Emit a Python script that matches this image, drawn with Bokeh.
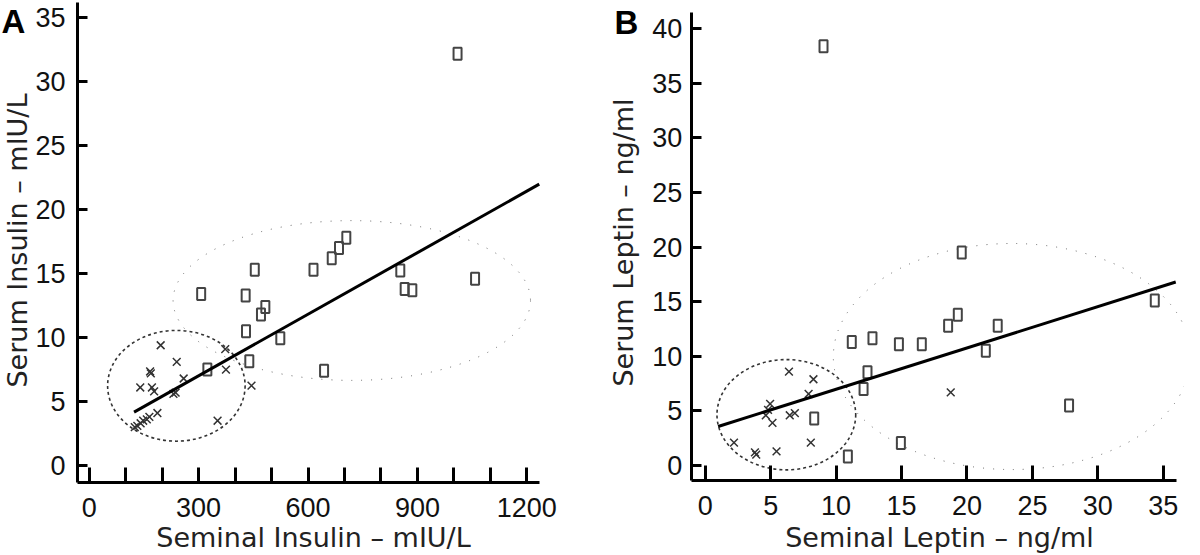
import math
from bokeh.plotting import figure
from bokeh.models import FixedTicker, Range1d, Label
from bokeh.layouts import row
from bokeh.embed import file_html
from bokeh.resources import INLINE

# ---------------- Panel A data (Seminal vs Serum Insulin) ----------------
a_sq_x = [1010, 705, 685, 665, 454, 615, 853, 1058, 865, 886, 307, 429, 483, 471, 430, 524, 439, 324, 644]
a_sq_y = [32.2, 17.8, 17.0, 16.2, 15.3, 15.3, 15.25, 14.6, 13.8, 13.7, 13.4, 13.3, 12.4, 11.8, 10.5, 9.95, 8.15, 7.5, 7.4]
a_x_x = [196, 240, 167, 169, 373, 375, 259, 140, 172, 178, 231, 237, 445, 187, 165, 148, 132, 141, 352, 158, 125]
a_x_y = [9.4, 8.1, 7.35, 7.2, 9.1, 7.5, 6.8, 6.1, 6.1, 5.8, 5.6, 5.7, 6.25, 4.1, 3.8, 3.5, 3.1, 3.3, 3.5, 3.6, 3.0]
a_fit_x = [123, 1234]
a_fit_y = [4.17, 22.0]
a_small_ell = [239, 6.23, 377, 8.66]     # cx, cy, width, height
a_big_ell = [720, 12.9, 980, 12.5]
a_xticks = list(range(0, 1201, 100))
a_xtick_labels = ["0", "", "", "300", "", "", "600", "", "", "900", "", "", "1200"]
a_yticks = [0, 5, 10, 15, 20, 25, 30, 35]

# ---------------- Panel B data (Seminal vs Serum Leptin) ----------------
b_sq_x = [9.04, 19.6, 34.35, 19.3, 18.56, 22.35, 11.2, 12.78, 14.8, 16.55, 21.44, 12.4, 12.1, 8.33, 27.8, 14.95, 10.9]
b_sq_y = [38.4, 19.5, 15.1, 13.8, 12.8, 12.8, 11.3, 11.66, 11.1, 11.1, 10.5, 8.55, 7.0, 4.3, 5.5, 2.05, 0.82]
b_x_x = [6.4, 8.27, 7.9, 18.76, 4.96, 4.63, 5.14, 6.46, 6.85, 4.8, 2.2, 3.8, 3.9, 5.45, 8.07]
b_x_y = [8.6, 7.9, 6.55, 6.7, 5.65, 4.6, 3.9, 4.6, 4.8, 5.1, 2.1, 1.2, 1.0, 1.3, 2.1]
b_fit_x = [0.99, 35.95]
b_fit_y = [3.57, 16.8]
b_small_ell = [6.2, 4.65, 10.6, 10.1]
b_big_ell = [23.44, 9.98, 27.3, 20.7]
b_xticks = [0, 5, 10, 15, 20, 25, 30, 35]
b_yticks = [0, 5, 10, 15, 20, 25, 30, 35, 40]

TICK_FONT = "Liberation Sans"
TITLE_FONT = "DejaVu Sans"
TICK_FS = "27px"
TITLE_FS = "27px"


def make_panel(cfg):
    p = figure(width=592, height=555, output_backend="svg", toolbar_location=None,
               x_range=Range1d(*cfg["xr"]), y_range=Range1d(*cfg["yr"]),
               min_border=0, min_border_left=0, min_border_right=0,
               min_border_top=0, min_border_bottom=0)
    p.outline_line_color = None
    p.grid.visible = False
    p.background_fill_color = "white"
    p.border_fill_color = "white"

    be, se = cfg["big_ell"], cfg["small_ell"]
    p.ellipse(x=[be[0]], y=[be[1]], width=[be[2]], height=[be[3]],
              fill_color=None, line_color="#666666", line_width=1, line_dash="1 9")
    p.ellipse(x=[se[0]], y=[se[1]], width=[se[2]], height=[se[3]],
              fill_color=None, line_color="#333333", line_width=1.6, line_dash="3 3")
    p.scatter(cfg["xx"], cfg["xy"], marker="x", size=11, line_color="#333333", line_width=1.5)
    p.rect(x=cfg["sq_x"], y=cfg["sq_y"], width=8, height=12, width_units="screen",
           height_units="screen", fill_color=None, line_color="#444444", line_width=2)
    p.line(cfg["fit_x"], cfg["fit_y"], line_color="black", line_width=3)

    for ax in (p.xaxis[0], p.yaxis[0]):
        ax.axis_line_width = 3
        ax.axis_line_color = "black"
        ax.major_tick_line_width = 3
        ax.major_tick_line_color = "black"
        ax.major_tick_out = 0
        ax.minor_tick_line_color = None
        ax.major_label_text_font = TICK_FONT
        ax.major_label_text_font_size = TICK_FS
        ax.major_label_text_color = "#111111"

    xa = p.xaxis[0]
    xa.fixed_location = cfg["x_axis_at"]
    xa.bounds = cfg["x_bounds"]
    xa.ticker = FixedTicker(ticks=cfg["xticks"])
    xa.major_label_overrides = {t: l for t, l in zip(cfg["xticks"], cfg["xlabels"])}
    xa.major_tick_in = 15
    xa.major_label_standoff = 16

    ya = p.yaxis[0]
    ya.fixed_location = cfg["y_axis_at"]
    ya.bounds = cfg["y_bounds"]
    ya.ticker = FixedTicker(ticks=cfg["yticks"])
    ya.major_tick_in = 10
    ya.major_label_standoff = cfg["ytick_standoff"]

    # axis titles and panel letter
    tx, ty = cfg["xtitle_at"]
    p.add_layout(Label(x=tx, y=ty, text=cfg["xtitle"], text_font=TITLE_FONT,
                       text_font_size=TITLE_FS, text_color="#222222",
                       text_align="center", text_baseline="middle"))
    tx, ty = cfg["ytitle_at"]
    p.add_layout(Label(x=tx, y=ty, text=cfg["ytitle"], text_font=TITLE_FONT,
                       text_font_size=TITLE_FS, text_color="#222222", angle=math.pi / 2,
                       text_align="center", text_baseline="middle"))
    lx, ly = cfg["letter_at"]
    p.add_layout(Label(x=lx, y=ly, text=cfg["letter"], text_font=TICK_FONT,
                       text_font_size="33px", text_font_style="bold", text_color="black",
                       text_align="left", text_baseline="middle"))
    return p


pa = make_panel(dict(
    xr=(-243.2, 1380.0), yr=(-7.04, 36.36),
    x_axis_at=-1.3, x_bounds=(-32, 1235), y_axis_at=-32, y_bounds=(-1.3, 36.2),
    xticks=a_xticks, xlabels=a_xtick_labels, yticks=a_yticks, ytick_standoff=12,
    sq_x=a_sq_x, sq_y=a_sq_y, xx=a_x_x, xy=a_x_y, fit_x=a_fit_x, fit_y=a_fit_y,
    small_ell=a_small_ell, big_ell=a_big_ell,
    xtitle="Seminal Insulin \u2013 mIU/L", xtitle_at=(615, -5.63),
    ytitle="Serum Insulin \u2013 mIU/L", ytitle_at=(-196.7, 17.59),
    letter="A", letter_at=(-240.5, 34.68)))

pb = make_panel(dict(
    xr=(-8.61, 36.62), yr=(-8.24, 42.58),
    x_axis_at=-1.37, x_bounds=(-1.07, 36.0), y_axis_at=-1.07, y_bounds=(-1.37, 41.46),
    xticks=b_xticks, xlabels=[str(t) for t in b_xticks], yticks=b_yticks, ytick_standoff=9,
    sq_x=b_sq_x, sq_y=b_sq_y, xx=b_x_x, xy=b_x_y, fit_x=b_fit_x, fit_y=b_fit_y,
    small_ell=b_small_ell, big_ell=b_big_ell,
    xtitle="Seminal Leptin \u2013 ng/ml", xtitle_at=(17.9, -6.59),
    ytitle="Serum Leptin \u2013 ng/ml", ytitle_at=(-6.24, 20.42),
    letter="B", letter_at=(-6.93, 40.61)))

layout = row(pa, pb)
open("out.html", "w").write(file_html(layout, INLINE))
